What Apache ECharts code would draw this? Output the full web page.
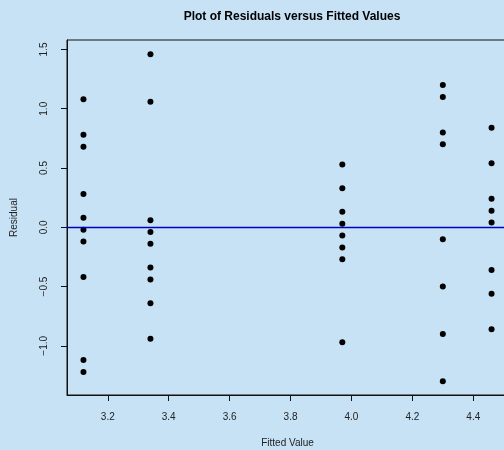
<!DOCTYPE html>
<html>
<head>
<meta charset="utf-8">
<script src="https://cdn.jsdelivr.net/npm/echarts@6/dist/echarts.min.js"></script>
<style>
  html, body { margin: 0; padding: 0; background: #c7e2f5; }
  #chart { width: 504px; height: 450px; }
</style>
</head>
<body>
<div id="chart"></div>
<script>
// fitted values (one per group) and residuals
var fitted = [3.12, 3.34, 3.97, 4.30, 4.46];
var resid1 = [1.08, 0.78, 0.68, 0.28, 0.08, -0.02, -0.12, -0.42, -1.12, -1.22];
var resid2 = [1.46, 1.06, 0.06, -0.04, -0.14, -0.34, -0.44, -0.64, -0.94];
var resid3 = [0.53, 0.33, 0.13, 0.03, -0.07, -0.17, -0.27, -0.97];
var resid4 = [1.20, 1.10, 0.80, 0.70, -0.10, -0.50, -0.90, -1.30];
var resid5 = [0.84, 0.54, 0.24, 0.14, 0.04, -0.36, -0.56, -0.86];
var xTicks = [3.2, 3.4, 3.6, 3.8, 4.0, 4.2, 4.4];
var yTicks = [-1.0, -0.5, 0.0, 0.5, 1.0, 1.5];

var groups = [resid1, resid2, resid3, resid4, resid5];
var points = [];
groups.forEach(function(g, i){
	g.forEach(function(r){ points.push([fitted[i], r]); });
});

var font = 'Liberation Sans, Arial, sans-serif';
var myChart = echarts.init(document.getElementById('chart'));
var option = {
	backgroundColor: '#c7e2f5',
	animation: false,
	title: {
		text: 'Plot of Residuals versus Fitted Values',
		left: 287,
		top: 6,
		textAlign: 'center',
		textStyle: { fontFamily: font, fontSize: 12, fontWeight: 'bold', color: '#000' }
	},
	grid: {
		left: 67, top: 40, right: -4, bottom: 55,
		outerBoundsMode: 'none',
		containLabel: false,
		show: true, borderColor: '#111', borderWidth: 1, backgroundColor: 'transparent'
	},
	xAxis: {
		type: 'value',
		min: 3.066, max: 4.514,
		name: 'Fitted Value',
		nameLocation: 'middle',
		nameGap: 43,
		nameTextStyle: { fontFamily: font, fontSize: 10, color: '#222' },
		axisLine: { show: true, onZero: false, lineStyle: { color: '#111' } },
		splitLine: { show: false },
		axisTick: { show: true, inside: false, length: 6, customValues: xTicks,
			lineStyle: { color: '#111' } },
		axisLabel: { customValues: xTicks, margin: 17, fontFamily: font, fontSize: 10, color: '#222',
			formatter: function(v){ return v.toFixed(1); } }
	},
	yAxis: {
		type: 'value',
		min: -1.415, max: 1.58,
		name: 'Residual',
		nameLocation: 'middle',
		nameGap: 48,
		nameRotate: 90,
		nameTextStyle: { fontFamily: font, fontSize: 10, color: '#222' },
		axisLine: { show: true, onZero: false, lineStyle: { color: '#111' } },
		splitLine: { show: false },
		axisTick: { show: true, inside: false, length: 6, customValues: yTicks,
			lineStyle: { color: '#111' } },
		axisLabel: { customValues: yTicks, rotate: 90, margin: 18, fontFamily: font, fontSize: 10, color: '#222',
			formatter: function(v){ return v.toFixed(1).replace('-', '\u2212'); } }
	},
	series: [{
		type: 'scatter',
		data: points,
		symbol: 'circle',
		symbolSize: 6,
		itemStyle: { color: '#000', opacity: 1 },
		markLine: {
			silent: true,
			symbol: 'none',
			label: { show: false },
			itemStyle: { color: '#0000c0' },
			lineStyle: { color: '#0000c0', width: 1.3, type: 'solid', opacity: 1 },
			data: [{ yAxis: 0, lineStyle: { color: '#0000c0' } }]
		}
	}]
};
myChart.setOption(option);
</script>
</body>
</html>
